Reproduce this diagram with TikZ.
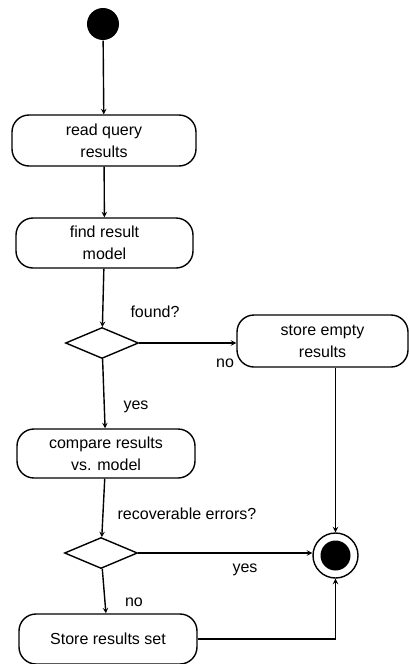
\documentclass[tikz,border=0pt]{standalone}
\usepackage{fontspec}
\setmainfont{Liberation Sans}
\usetikzlibrary{arrows, shapes.geometric}
\tikzstyle{activity}=[draw, rounded corners=17pt, align=center, inner sep=0pt]
\tikzstyle{decision}=[draw, diamond, inner sep=0pt, minimum width=73pt, minimum height=31pt]
\tikzstyle{startstate}=[circle, fill=black, inner sep=0pt, minimum size=32pt]
\tikzstyle{endstate}=[circle, draw, inner sep=0pt, minimum size=45pt,
    path picture={\fill (path picture bounding box.center) circle (15pt);}]
\newcommand{\activity}{\node[activity]}
\newcommand{\decision}{\node[decision]}

\begin{document}
\begin{tikzpicture}[x=1pt, y=-1pt, line width=1.4pt, >=stealth,
            font=\fontsize{16}{22}\selectfont,
            every edge/.style={draw, ->}
        ]
        \useasboundingbox (0,0) rectangle (409,664);

            \node[startstate] (start) at (103,24) {};

            \activity (read) at (104,140.5) [minimum width=184pt, minimum height=51pt]{read query\\results};
            \activity (find) at (104.5,243) [minimum width=177pt, minimum height=50pt]{find result\\model};
            \decision (found) at (102,343) {};
            \activity (empty) at (322.5,341) [minimum width=171pt, minimum height=52pt]{store empty\\results};
            \activity (compare) at (106,453.5) [minimum width=178pt, minimum height=49pt]{compare results\\vs. model};
            \decision (recov) at (101,553) {};
            \activity (store) at (108,639) [minimum width=178pt, minimum height=50pt]{Store results set};

            \node[endstate] (final) at (335.5,555.5) {};

            % guard labels
            \node (lfound) at (155,312) {found?};
            \node (lno1) at (225,363) {no};
            \node (lyes1) at (136,407) {yes};
            \node (lrecov) at (187,514) {recoverable errors?};
            \node (lyes2) at (245,570) {yes};
            \node (lno2) at (134,602) {no};

            \path
                (start) edge (read)
                (read) edge (find)
                (find) edge (found)
                (found.east) edge (empty.west |- found.east)
                (found) edge (compare)
                (final.north |- empty.south) edge (final.north)
                (compare) edge (recov)
                (recov.east) edge (final.west |- recov.east)
                (recov) edge (store)
            ;
            \draw[->] (store.east) -| (final.south);
        \end{tikzpicture}
\end{document}
